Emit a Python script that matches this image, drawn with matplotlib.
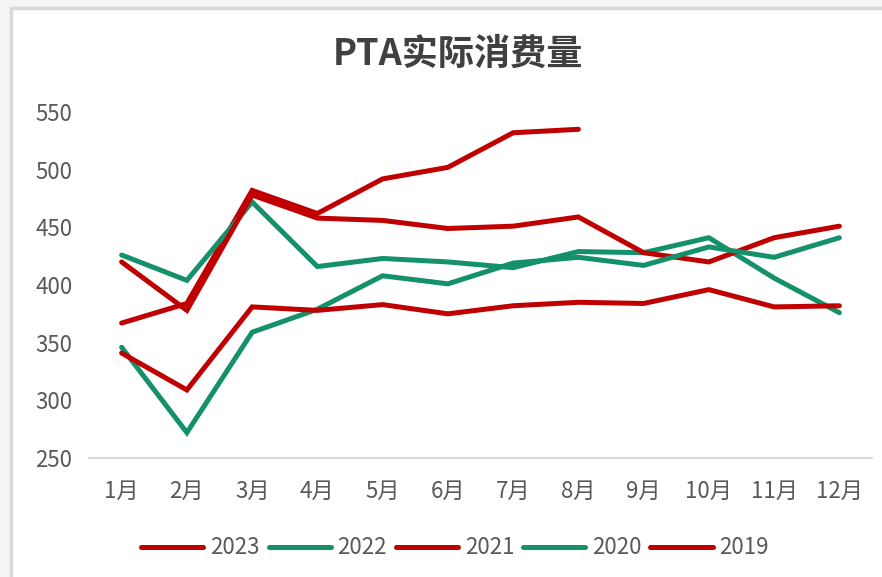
import matplotlib.pyplot as plt
from matplotlib.patches import Rectangle

plt.rcParams['font.family'] = ['Noto Sans CJK SC', 'DejaVu Sans']

months = ['1月', '2月', '3月', '4月', '5月', '6月', '7月', '8月', '9月', '10月', '11月', '12月']
y2023 = [367, 384, 482, 462, 492, 502, 532, 535]
y2022 = [426, 404, 472, 416, 423, 420, 415, 429, 428, 441, 406, 376]
y2021 = [420, 378, 478, 458, 456, 449, 451, 459, 428, 420, 441, 451]
y2020 = [346, 272, 359, 379, 408, 401, 419, 424, 417, 433, 424, 441]
y2019 = [341, 309, 381, 378, 383, 375, 382, 385, 384, 396, 381, 382]

red = '#C00000'
green = '#14906A'

fig = plt.figure(figsize=(8.82, 5.77), dpi=100, facecolor='#f4f4f4')
# chart frame like the original sheet
fig.patches.append(Rectangle((11 / 882, -0.1), 1.0, 1 - 8 / 577 + 0.1, transform=fig.transFigure,
                             facecolor='white', edgecolor='#d9d9d9', linewidth=2.5, zorder=-5))

ax = fig.add_axes([89 / 882, 1 - 458 / 577, (872 - 89) / 882, (458 - 112) / 577])
ax.set_facecolor('none')

series = [('2023', y2023, red), ('2022', y2022, green), ('2021', y2021, red),
          ('2020', y2020, green), ('2019', y2019, red)]
for name, vals, c in series:
    ax.plot(months[:len(vals)], vals, color=c, linewidth=3.6, label=name,
            solid_capstyle='round', solid_joinstyle='miter')

ax.set_xlim(-0.5, 11.5)
ax.set_ylim(250, 550)
ax.set_yticks([250, 300, 350, 400, 450, 500, 550])
for s in ['top', 'right', 'left']:
    ax.spines[s].set_visible(False)
ax.spines['bottom'].set_color('#d9d9d9')
ax.spines['bottom'].set_linewidth(1.5)
ax.tick_params(axis='both', length=0, labelsize=16, labelcolor='#595959')
ax.tick_params(axis='x', pad=16)
ax.tick_params(axis='y', pad=12)

fig.text(458 / 882, 1 - 54 / 577, 'PTA实际消费量', ha='center', va='center',
         fontsize=26, fontweight='bold', color='#404040')

leg = ax.legend(loc='center', bbox_to_anchor=(455 / 882, 1 - 548 / 577), bbox_transform=fig.transFigure,
                ncol=5, frameon=False, fontsize=16, handlelength=2.8, handletextpad=0.3,
                columnspacing=0.4)
for t in leg.get_texts():
    t.set_color('#595959')

fig.savefig('out.png', dpi=100, facecolor=fig.get_facecolor())
